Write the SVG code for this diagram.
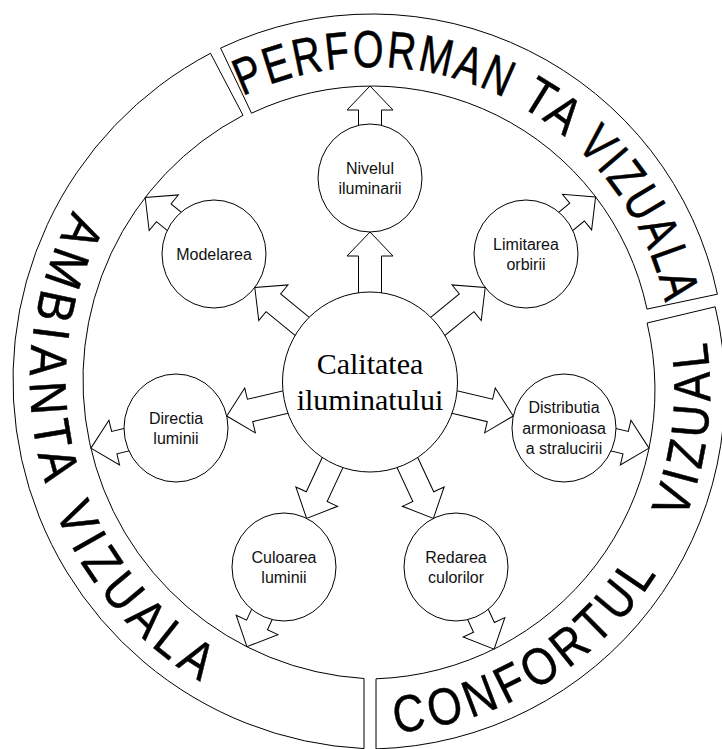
<svg xmlns="http://www.w3.org/2000/svg" width="722" height="749" viewBox="0 0 722 749">
<style>
.seg{fill:#fff;stroke:#000;stroke-width:1}
.band{font-family:"Liberation Sans",Arial,sans-serif;fill:#000;stroke:#000;stroke-width:0.5;font-size:52px}
.arr{fill:#fff;stroke:#000;stroke-width:1;stroke-linejoin:miter}
.node{fill:#fff;stroke:#000;stroke-width:1}
.lbl{font-family:"Liberation Sans",Arial,sans-serif;font-size:16px;fill:#111;text-anchor:middle}
.ctr{font-family:"Liberation Serif","Times New Roman",serif;font-size:30px;fill:#000;text-anchor:middle}
</style>
<defs>
<path id="pPerf" d="M242.85,96.22 A300,300 0 0 1 670.9,340.9" fill="none"/>
<path id="pAmb" d="M73.3,211.0 A352,352 0 0 0 261.6,710.8" fill="none"/>
<path id="pConf" d="M395.4,732.7 A344,344 0 0 0 698.3,301.0" fill="none"/>
<path id="arrC" class="arr" d="M-90,-11.5 H-24 V-23 L0,0 L-24,23 V11.5 H-90 Z"/>
<path id="arrO" class="arr" d="M-62,-11.5 H-24 V-23 L0,0 L-24,23 V11.5 H-62 Z"/>
</defs>
<rect width="722" height="749" fill="#fff"/>
<g id="ring-performanta">
<path class="seg" d="M220.6,48.1 A353,353 0 0 1 717.4,294.2 L647.0,309.1 A281,281 0 0 0 251.5,113.2 Z"/>
<text class="band" letter-spacing="3"><textPath href="#pPerf" startOffset="0" textLength="272.8" lengthAdjust="spacingAndGlyphs">PERFORMAN</textPath><textPath href="#pPerf" startOffset="287" textLength="56.1" lengthAdjust="spacingAndGlyphs">TA</textPath> <textPath href="#pPerf" startOffset="357" textLength="185" lengthAdjust="spacingAndGlyphs">VIZUALA</textPath></text>
</g>
<g id="ring-confortul">
<path class="seg" d="M715.2,306.8 A359,359 0 0 1 376,748.9 L376,678.8 A289,289 0 0 0 647.1,323.0 Z"/>
<text class="band" letter-spacing="6"><textPath href="#pConf" startOffset="0" textLength="320" lengthAdjust="spacingAndGlyphs">CONFORTUL</textPath> <textPath href="#pConf" startOffset="377.6" textLength="186.4" lengthAdjust="spacingAndGlyphs">VIZUAL</textPath></text>
</g>
<g id="ring-ambianta">
<path class="seg" d="M364,748.6 A369,369 0 0 1 210.5,53.3 L243.0,115.3 A299,299 0 0 0 364,678.5 Z"/>
<text class="band" letter-spacing="8"><textPath href="#pAmb" startOffset="0" textLength="286" lengthAdjust="spacingAndGlyphs">AMBIANTA</textPath> <textPath href="#pAmb" startOffset="311" textLength="234" lengthAdjust="spacingAndGlyphs">VIZUALA</textPath></text>
</g>
<g id="connectors">
<use href="#arrC" transform="translate(370,232) rotate(-90)"/>
<use href="#arrC" transform="translate(485.2,287.5) rotate(-39.37)"/>
<use href="#arrC" transform="translate(254.8,287.5) rotate(-140.63)"/>
<use href="#arrC" transform="translate(226.7,416) rotate(166.66)"/>
<use href="#arrC" transform="translate(513.3,416) rotate(13.34)"/>
<use href="#arrC" transform="translate(306.6,518.4) rotate(114.94)"/>
<use href="#arrC" transform="translate(433.4,518.4) rotate(65.06)"/>
<use href="#arrO" transform="translate(370,86) rotate(-90)"/>
<use href="#arrO" transform="translate(595.6,196.9) rotate(-39.37)"/>
<use href="#arrO" transform="translate(145.2,197.5) rotate(-140.63)"/>
<use href="#arrO" transform="translate(90.9,448.2) rotate(166.66)"/>
<use href="#arrO" transform="translate(649,448.2) rotate(13.34)"/>
<use href="#arrO" transform="translate(246.9,646.7) rotate(114.94)"/>
<use href="#arrO" transform="translate(494.1,649.1) rotate(65.06)"/>
</g>
<g id="node-center">
<ellipse class="node" cx="370" cy="382" rx="87.5" ry="90"/>
<text class="ctr" x="370" y="374">Calitatea</text>
<text class="ctr" x="370" y="410">iluminatului</text>
</g>
<g id="node-nivelul">
<ellipse class="node" cx="370" cy="178" rx="52" ry="54"/>
<text class="lbl" x="370" y="174">Nivelul</text>
<text class="lbl" x="370" y="194">iluminarii</text>
</g>
<g id="node-modelarea">
<ellipse class="node" cx="214" cy="254" rx="52" ry="54"/>
<text class="lbl" x="214" y="260">Modelarea</text>
</g>
<g id="node-limitarea">
<ellipse class="node" cx="526" cy="254" rx="52" ry="54"/>
<text class="lbl" x="526" y="250">Limitarea</text>
<text class="lbl" x="526" y="270">orbirii</text>
</g>
<g id="node-directia">
<ellipse class="node" cx="176" cy="428" rx="52" ry="54"/>
<text class="lbl" x="176" y="424">Directia</text>
<text class="lbl" x="176" y="444">luminii</text>
</g>
<g id="node-distributia">
<ellipse class="node" cx="564" cy="428" rx="52" ry="54"/>
<text class="lbl" x="564" y="413">Distributia</text>
<text class="lbl" x="564" y="433.5">armonioasa</text>
<text class="lbl" x="564" y="454">a stralucirii</text>
</g>
<g id="node-culoarea">
<ellipse class="node" cx="284" cy="567" rx="52" ry="54"/>
<text class="lbl" x="284" y="563">Culoarea</text>
<text class="lbl" x="284" y="583">luminii</text>
</g>
<g id="node-redarea">
<ellipse class="node" cx="456" cy="567" rx="52" ry="54"/>
<text class="lbl" x="456" y="563">Redarea</text>
<text class="lbl" x="456" y="583">culorilor</text>
</g>
</svg>
